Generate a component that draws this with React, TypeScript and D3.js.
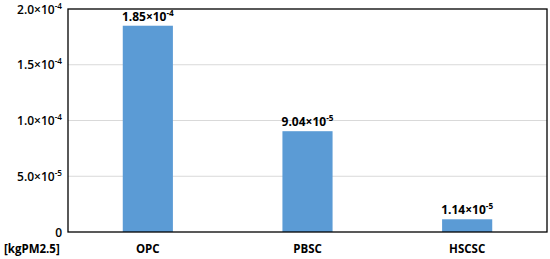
import React, { useEffect, useRef } from "react"
import * as d3 from "d3"

const categories = ["OPC", "PBSC", "HSCSC"]
const values = [1.85e-4, 9.04e-5, 1.14e-5]
const valueLabels = [["1.85", "-4"], ["9.04", "-5"], ["1.14", "-5"]]
const yTicks = [0, 5e-5, 1e-4, 1.5e-4, 2e-4]
const yTickLabels = [["0", ""], ["5.0", "-5"], ["1.0", "-4"], ["1.5", "-4"], ["2.0", "-4"]]
const unitLabel = "[kgPM2.5]"

const W = 550
const H = 259
const margin = { left: 68, right: 3, top: 9, bottom: 27 }
const FONT = "'Open Sans', 'Noto Sans', sans-serif"

function sciText(sel: any, mant: string, exp: string, size: number) {
  if (!exp) {
    sel.text(mant)
    return
  }
  sel.append("tspan").text(mant + "×10")
  sel.append("tspan")
    .attr("dy", -size * 0.4)
    .attr("font-size", size * 0.68)
    .text(exp)
}

export default function App() {
  const ref = useRef<SVGSVGElement>(null)

  useEffect(() => {
    const svg = d3.select(ref.current)
    svg.selectAll("*").remove()

    const x = d3.scaleBand()
      .domain(categories)
      .range([margin.left, W - margin.right])
      .paddingInner(0.686)
      .paddingOuter(0.343)
    const y = d3.scaleLinear()
      .domain([0, 2e-4])
      .range([H - margin.bottom, margin.top])

    // gridlines
    svg.append("g").selectAll("line")
      .data(yTicks.slice(1, -1))
      .join("line")
      .attr("x1", margin.left)
      .attr("x2", W - margin.right)
      .attr("y1", d => y(d))
      .attr("y2", d => y(d))
      .attr("stroke", "#d9d9d9")
      .attr("stroke-width", 1)

    // bars
    svg.append("g").selectAll("rect")
      .data(values)
      .join("rect")
      .attr("x", (d, i) => x(categories[i])!)
      .attr("width", x.bandwidth())
      .attr("y", d => y(d))
      .attr("height", d => y(0) - y(d))
      .attr("fill", "#5b9bd5")

    // plot border
    svg.append("rect")
      .attr("x", margin.left)
      .attr("y", margin.top)
      .attr("width", W - margin.right - margin.left)
      .attr("height", H - margin.bottom - margin.top)
      .attr("fill", "none")
      .attr("stroke", "#000")
      .attr("stroke-width", 1.3)

    // value labels
    values.forEach((v, i) => {
      const t = svg.append("text")
        .attr("x", x(categories[i])! + x.bandwidth() / 2)
        .attr("y", y(v) - 5)
        .attr("text-anchor", "middle")
        .attr("font-family", FONT)
        .attr("font-weight", "bold")
        .attr("font-size", 12)
        .attr("fill", "#000")
      sciText(t, valueLabels[i][0], valueLabels[i][1], 12)
    })

    // y tick labels
    yTicks.forEach((v, i) => {
      const t = svg.append("text")
        .attr("x", margin.left - 6)
        .attr("y", y(v) + 4.5)
        .attr("text-anchor", "end")
        .attr("font-family", FONT)
        .attr("font-weight", 600)
        .attr("font-size", 12)
        .attr("fill", "#000")
      sciText(t, yTickLabels[i][0], yTickLabels[i][1], 12)
    })

    // category labels
    svg.append("g").selectAll("text")
      .data(categories)
      .join("text")
      .attr("x", d => x(d)! + x.bandwidth() / 2)
      .attr("y", H - 6)
      .attr("text-anchor", "middle")
      .attr("font-family", FONT)
      .attr("font-weight", "bold")
      .attr("font-size", 11.5)
      .text(d => d)

    svg.append("text")
      .attr("x", 4)
      .attr("y", H - 6)
      .attr("font-family", FONT)
      .attr("font-weight", "bold")
      .attr("font-size", 11.5)
      .text(unitLabel)
  }, [])

  return (
    <svg ref={ref} width={W} height={H}
      style={{ position: "absolute", left: 0, top: 0, background: "#fff" }} />
  )
}
